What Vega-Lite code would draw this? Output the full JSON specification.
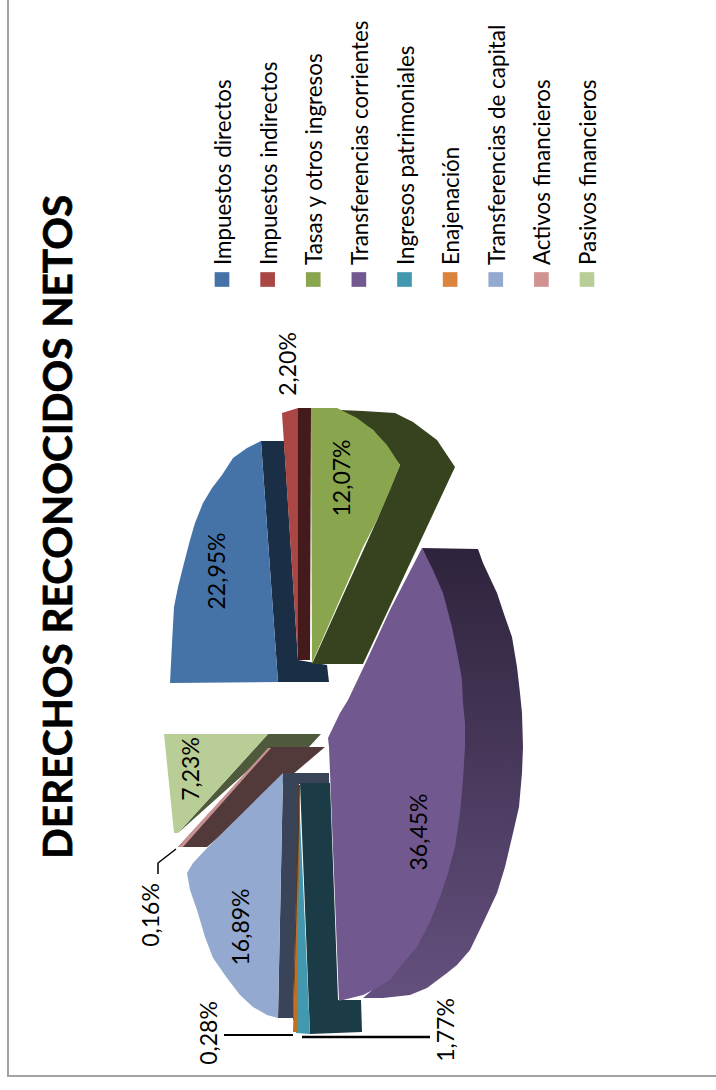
{"$schema":"https://vega.github.io/schema/vega-lite/v6.json","width":716,"height":1090,"padding":0,"autosize":{"type":"none"},"background":"white","config":{"view":{"stroke":null}},
"datasets":{"poligonos":[
{"p":"Pasivos lateral","i":0,"x":268,"y":734},{"p":"Pasivos lateral","i":1,"x":321,"y":734},{"p":"Pasivos lateral","i":2,"x":308,"y":748},{"p":"Pasivos lateral","i":3,"x":273,"y":748},{"p":"Pasivos lateral","i":4,"x":178,"y":833},
{"p":"Pasivos","i":0,"x":164,"y":734},{"p":"Pasivos","i":1,"x":268,"y":734},{"p":"Pasivos","i":2,"x":178,"y":833},{"p":"Pasivos","i":3,"x":174,"y":833},
{"p":"Activos lateral","i":0,"x":270,"y":747},{"p":"Activos lateral","i":1,"x":325,"y":747},{"p":"Activos lateral","i":2,"x":207,"y":847},{"p":"Activos lateral","i":3,"x":178,"y":847},
{"p":"Activos","i":0,"x":178,"y":847},{"p":"Activos","i":1,"x":268,"y":748},{"p":"Activos","i":2,"x":271,"y":748},{"p":"Activos","i":3,"x":183,"y":847},
{"p":"Capital lateral","i":0,"x":283,"y":773},{"p":"Capital lateral","i":1,"x":329,"y":773},{"p":"Capital lateral","i":2,"x":329,"y":784},{"p":"Capital lateral","i":3,"x":299,"y":784},{"p":"Capital lateral","i":4,"x":293,"y":1018},{"p":"Capital lateral","i":5,"x":278,"y":1018},
{"p":"Capital","i":0,"x":283,"y":773},{"p":"Capital","i":1,"x":207,"y":848},{"p":"Capital","i":2,"x":193,"y":863},{"p":"Capital","i":3,"x":187,"y":873},{"p":"Capital","i":4,"x":190,"y":890},{"p":"Capital","i":5,"x":197,"y":910},{"p":"Capital","i":6,"x":205,"y":937},{"p":"Capital","i":7,"x":213,"y":958},{"p":"Capital","i":8,"x":227,"y":978},{"p":"Capital","i":9,"x":240,"y":995},{"p":"Capital","i":10,"x":253,"y":1007},{"p":"Capital","i":11,"x":267,"y":1015},{"p":"Capital","i":12,"x":278,"y":1018},
{"p":"Patrimoniales lateral","i":0,"x":300,"y":783},{"p":"Patrimoniales lateral","i":1,"x":330,"y":783},{"p":"Patrimoniales lateral","i":2,"x":338,"y":1000},{"p":"Patrimoniales lateral","i":3,"x":361,"y":1000},{"p":"Patrimoniales lateral","i":4,"x":362,"y":1032},{"p":"Patrimoniales lateral","i":5,"x":310,"y":1034},
{"p":"Patrimoniales","i":0,"x":299,"y":795},{"p":"Patrimoniales","i":1,"x":310,"y":1034},{"p":"Patrimoniales","i":2,"x":296,"y":1033},
{"p":"Enajenacion lateral","i":0,"x":298,"y":785},{"p":"Enajenacion lateral","i":1,"x":300,"y":785},{"p":"Enajenacion lateral","i":2,"x":296,"y":1020},{"p":"Enajenacion lateral","i":3,"x":293,"y":1020},
{"p":"Enajenacion","i":0,"x":299,"y":830},{"p":"Enajenacion","i":1,"x":297,"y":1032},{"p":"Enajenacion","i":2,"x":293,"y":1032},
{"p":"Directos lateral","i":0,"x":261,"y":441},{"p":"Directos lateral","i":1,"x":284,"y":441},{"p":"Directos lateral","i":2,"x":298,"y":660},{"p":"Directos lateral","i":3,"x":327,"y":665},{"p":"Directos lateral","i":4,"x":329,"y":682},{"p":"Directos lateral","i":5,"x":278,"y":682},
{"p":"Directos","i":0,"x":170,"y":683},{"p":"Directos","i":1,"x":172,"y":643},{"p":"Directos","i":2,"x":174,"y":607},{"p":"Directos","i":3,"x":178,"y":587},{"p":"Directos","i":4,"x":183,"y":567},{"p":"Directos","i":5,"x":190,"y":540},{"p":"Directos","i":6,"x":195,"y":523},{"p":"Directos","i":7,"x":203,"y":503},{"p":"Directos","i":8,"x":212,"y":488},{"p":"Directos","i":9,"x":222,"y":475},{"p":"Directos","i":10,"x":233,"y":458},{"p":"Directos","i":11,"x":247,"y":448},{"p":"Directos","i":12,"x":261,"y":441},{"p":"Directos","i":13,"x":278,"y":682},
{"p":"Indirectos","i":0,"x":282,"y":413},{"p":"Indirectos","i":1,"x":298,"y":408},{"p":"Indirectos","i":2,"x":298,"y":660},
{"p":"Indirectos lateral","i":0,"x":298,"y":408},{"p":"Indirectos lateral","i":1,"x":311,"y":408},{"p":"Indirectos lateral","i":2,"x":310,"y":660},{"p":"Indirectos lateral","i":3,"x":298,"y":660},
{"p":"Tasas lateral","i":0,"x":340,"y":410},{"p":"Tasas lateral","i":1,"x":363,"y":411},{"p":"Tasas lateral","i":2,"x":395,"y":413},{"p":"Tasas lateral","i":3,"x":413,"y":422},{"p":"Tasas lateral","i":4,"x":437,"y":440},{"p":"Tasas lateral","i":5,"x":455,"y":467},{"p":"Tasas lateral","i":6,"x":363,"y":664},{"p":"Tasas lateral","i":7,"x":312,"y":664},{"p":"Tasas lateral","i":8,"x":377,"y":520},{"p":"Tasas lateral","i":9,"x":400,"y":465},{"p":"Tasas lateral","i":10,"x":373,"y":430},
{"p":"Tasas","i":0,"x":311,"y":408},{"p":"Tasas","i":1,"x":337,"y":408},{"p":"Tasas","i":2,"x":357,"y":418},{"p":"Tasas","i":3,"x":373,"y":430},{"p":"Tasas","i":4,"x":387,"y":445},{"p":"Tasas","i":5,"x":400,"y":465},{"p":"Tasas","i":6,"x":390,"y":490},{"p":"Tasas","i":7,"x":377,"y":520},{"p":"Tasas","i":8,"x":363,"y":547},{"p":"Tasas","i":9,"x":312,"y":663}
],
"corrientesLateral":[
{"i":0,"x":422,"y":548},{"i":1,"x":478,"y":549},{"i":2,"x":483,"y":563},{"i":3,"x":497,"y":593},{"i":4,"x":505,"y":617},{"i":5,"x":512,"y":637},{"i":6,"x":517,"y":667},{"i":7,"x":520,"y":693},{"i":8,"x":522,"y":713},{"i":9,"x":523,"y":747},{"i":10,"x":522,"y":773},{"i":11,"x":519,"y":807},{"i":12,"x":513,"y":833},{"i":13,"x":505,"y":867},{"i":14,"x":497,"y":893},{"i":15,"x":483,"y":923},{"i":16,"x":470,"y":950},{"i":17,"x":457,"y":965},{"i":18,"x":447,"y":973},{"i":19,"x":427,"y":988},{"i":20,"x":410,"y":995},{"i":21,"x":383,"y":998},{"i":22,"x":363,"y":998},{"i":23,"x":390,"y":975},{"i":24,"x":430,"y":900},{"i":25,"x":460,"y":720},{"i":26,"x":440,"y":590}
],
"corrientes":[
{"i":0,"x":422,"y":548},{"i":1,"x":433,"y":570},{"i":2,"x":443,"y":593},{"i":3,"x":452,"y":627},{"i":4,"x":458,"y":657},{"i":5,"x":462,"y":680},{"i":6,"x":463,"y":703},{"i":7,"x":465,"y":723},{"i":8,"x":465,"y":747},{"i":9,"x":463,"y":780},{"i":10,"x":460,"y":813},{"i":11,"x":455,"y":847},{"i":12,"x":448,"y":873},{"i":13,"x":440,"y":897},{"i":14,"x":430,"y":922},{"i":15,"x":417,"y":947},{"i":16,"x":403,"y":963},{"i":17,"x":390,"y":980},{"i":18,"x":377,"y":988},{"i":19,"x":363,"y":995},{"i":20,"x":339,"y":1001},{"i":21,"x":329,"y":747},{"i":22,"x":328,"y":738},{"i":23,"x":340,"y":713},{"i":24,"x":348,"y":700},{"i":25,"x":367,"y":660},{"i":26,"x":390,"y":610}
],
"guias":[
{"g":"a","i":0,"x":176,"y":849},{"g":"a","i":1,"x":158,"y":863},{"g":"a","i":2,"x":158,"y":874},
{"g":"b","i":0,"x":224,"y":1035},{"g":"b","i":1,"x":293,"y":1035},
{"g":"c","i":0,"x":302,"y":1037},{"g":"c","i":1,"x":430,"y":1037}
],
"marco":[{"i":0,"x":8,"y":0},{"i":1,"x":8,"y":1076},{"i":2,"x":716,"y":1076}],
"etiquetas":[
{"t":"22,95%","x":218,"y":571},{"t":"12,07%","x":343,"y":478},{"t":"36,45%","x":420,"y":832},{"t":"7,23%","x":192,"y":769},{"t":"16,89%","x":242,"y":927},{"t":"0,16%","x":152,"y":915},{"t":"0,28%","x":210,"y":1033},{"t":"1,77%","x":447,"y":1030},{"t":"2,20%","x":289,"y":364}
],
"leyenda":[{"n":"Impuestos directos"},{"n":"Impuestos indirectos"},{"n":"Tasas y otros  ingresos"},{"n":"Transferencias corrientes"},{"n":"Ingresos  patrimoniales"},{"n":"Enajenación"},{"n":"Transferencias de  capital"},{"n":"Activos financieros"},{"n":"Pasivos financieros"}],
"titulo":[{"t":"DERECHOS RECONOCIDOS NETOS"}]
},
"resolve":{"scale":{"x":"independent"}},
"layer":[
{"data":{"name":"marco"},"mark":{"type":"line","color":"#A3A3A3","strokeWidth":2,"clip":false},"encoding":{"x":{"field":"x","type":"quantitative","axis":null,"scale":{"domain":[0,716],"nice":false,"zero":false}},"y":{"field":"y","type":"quantitative","axis":null,"scale":{"domain":[1090,0],"nice":false,"zero":false}},"order":{"field":"i"}}},
{"data":{"name":"poligonos"},"mark":{"type":"line","filled":true,"strokeWidth":0,"interpolate":"linear-closed"},"encoding":{"x":{"field":"x","type":"quantitative","axis":null,"scale":{"domain":[0,716],"nice":false,"zero":false}},"y":{"field":"y","type":"quantitative","axis":null,"scale":{"domain":[1090,0],"nice":false,"zero":false}},"order":{"field":"i"},"fill":{"field":"p","type":"nominal","legend":null,"scale":{"domain":["Pasivos lateral","Pasivos","Activos lateral","Activos","Capital lateral","Capital","Patrimoniales lateral","Patrimoniales","Enajenacion lateral","Enajenacion","Directos lateral","Directos","Indirectos","Indirectos lateral","Tasas lateral","Tasas"],"range":["#4F5A3C","#B9CD96","#533A3A","#C89090","#3A4459","#93A9CF","#1B3C47","#4198AF","#5A3A20","#C36F22","#1A2E45","#4573A7","#AA4644","#451A1A","#37421F","#89A54E"]}}}},
{"data":{"name":"corrientesLateral"},"mark":{"type":"line","strokeWidth":0,"interpolate":"linear-closed","fill":{"gradient":"linear","x1":0,"y1":0,"x2":0,"y2":1,"stops":[{"offset":0,"color":"#2E233C"},{"offset":1,"color":"#64507E"}]}},"encoding":{"x":{"field":"x","type":"quantitative","axis":null,"scale":{"domain":[0,716],"nice":false,"zero":false}},"y":{"field":"y","type":"quantitative","axis":null,"scale":{"domain":[1090,0],"nice":false,"zero":false}},"order":{"field":"i"}}},
{"data":{"name":"corrientes"},"mark":{"type":"line","strokeWidth":0,"interpolate":"linear-closed","fill":"#71588F"},"encoding":{"x":{"field":"x","type":"quantitative","axis":null,"scale":{"domain":[0,716],"nice":false,"zero":false}},"y":{"field":"y","type":"quantitative","axis":null,"scale":{"domain":[1090,0],"nice":false,"zero":false}},"order":{"field":"i"}}},
{"data":{"name":"guias"},"mark":{"type":"line","color":"black"},"encoding":{"x":{"field":"x","type":"quantitative","axis":null,"scale":{"domain":[0,716],"nice":false,"zero":false}},"y":{"field":"y","type":"quantitative","axis":null,"scale":{"domain":[1090,0],"nice":false,"zero":false}},"order":{"field":"i"},"detail":{"field":"g"},"strokeWidth":{"field":"g","type":"ordinal","legend":null,"scale":{"domain":["a","b","c"],"range":[1.5,2.5,1.2]}}}},
{"data":{"name":"etiquetas"},"mark":{"type":"text","angle":270,"align":"center","baseline":"middle","font":"Lato","fontSize":23,"color":"black"},"encoding":{"x":{"field":"x","type":"quantitative","axis":null,"scale":{"domain":[0,716],"nice":false,"zero":false}},"y":{"field":"y","type":"quantitative","axis":null,"scale":{"domain":[1090,0],"nice":false,"zero":false}},"text":{"field":"t"}}},
{"data":{"name":"titulo"},"mark":{"type":"text","angle":270,"align":"center","baseline":"middle","font":"Lato","fontWeight":"bold","fontSize":40.5,"stroke":"black","strokeWidth":0.7,"color":"black"},"encoding":{"x":{"datum":60,"type":"quantitative","axis":null,"scale":{"domain":[0,716],"nice":false,"zero":false}},"y":{"datum":527,"type":"quantitative","axis":null,"scale":{"domain":[1090,0],"nice":false,"zero":false}},"text":{"field":"t"}}},
{"data":{"name":"leyenda"},"mark":{"type":"point","shape":"square","filled":true,"size":215,"opacity":1},"encoding":{"x":{"field":"n","type":"nominal","axis":null,"sort":null,"scale":{"type":"point","range":[222,587],"padding":0}},"y":{"datum":279.5,"type":"quantitative","axis":null,"scale":{"domain":[1090,0],"nice":false,"zero":false}},"color":{"field":"n","type":"nominal","legend":null,"sort":null,"scale":{"range":["#4573A7","#AA4644","#89A54E","#71588F","#4198AF","#DB843D","#93A9CF","#D19392","#B9CD96"]}}}},
{"data":{"name":"leyenda"},"mark":{"type":"text","angle":270,"align":"left","baseline":"alphabetic","dy":9,"font":"Lato","fontSize":22.4,"color":"black"},"encoding":{"x":{"field":"n","type":"nominal","axis":null,"sort":null,"scale":{"type":"point","range":[222,587],"padding":0}},"y":{"datum":265,"type":"quantitative","axis":null,"scale":{"domain":[1090,0],"nice":false,"zero":false}},"text":{"field":"n"}}}
]}
